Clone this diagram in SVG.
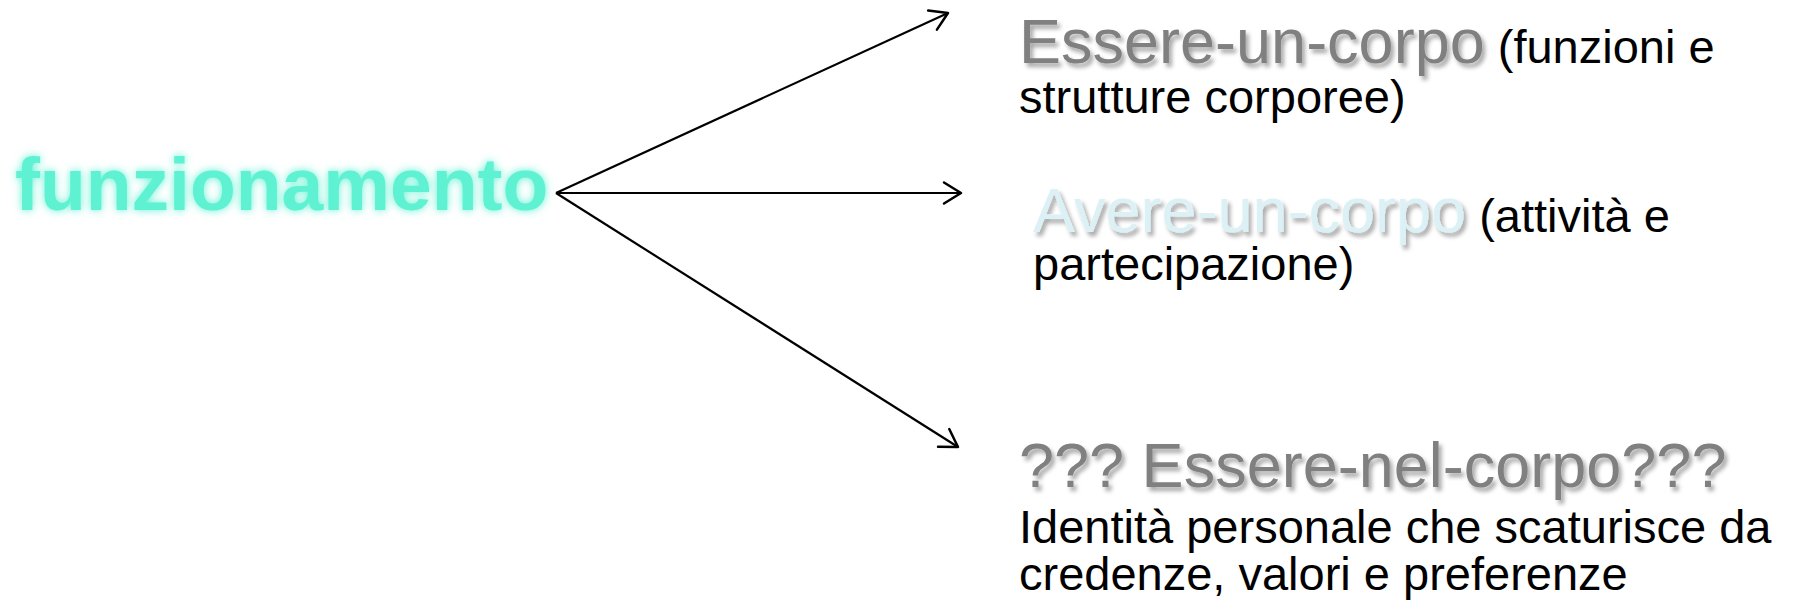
<svg xmlns="http://www.w3.org/2000/svg" width="1796" height="606" viewBox="0 0 1796 606">
<style>
.t{font-family:"Liberation Sans",Arial,sans-serif}
.big{font-size:63px}
.sm{font-size:47px;fill:#000}
.gray{fill:#808080}
.lb{fill:#DBF1F6}
.conn{stroke:#000;stroke-width:2.2;fill:none}
</style>
<defs>
<marker id="ah" markerUnits="userSpaceOnUse" markerWidth="40" markerHeight="40" viewBox="-30 -20 40 40" refX="0" refY="0" orient="auto">
<path d="M -17 -10.5 L 0 0 L -17 10.5" fill="none" stroke="#000" stroke-width="2.5" stroke-linecap="round" stroke-linejoin="round"/>
</marker>
<filter id="sh" x="-5%" y="-20%" width="115%" height="150%">
<feDropShadow dx="3" dy="4" stdDeviation="2" flood-color="#000" flood-opacity="0.35"/>
</filter>
<filter id="glow" x="-5%" y="-30%" width="110%" height="160%">
<feGaussianBlur in="SourceGraphic" stdDeviation="4" result="b"/>
<feMerge><feMergeNode in="b"/><feMergeNode in="SourceGraphic"/></feMerge>
</filter>
</defs>
<g id="connectors">
<line class="conn" x1="556" y1="193" x2="948" y2="13" marker-end="url(#ah)"/>
<line class="conn" x1="556" y1="193" x2="961" y2="193" marker-end="url(#ah)"/>
<line class="conn" x1="556" y1="193" x2="958" y2="447" marker-end="url(#ah)"/>
</g>
<g id="funzionamento">
<text class="t" x="15" y="210" font-size="75" font-weight="bold" fill="#5EF2D2" filter="url(#glow)">funzionamento</text>
</g>
<g id="essere-un-corpo">
<text class="t" y="63"><tspan class="big gray" x="1019" filter="url(#sh)">Essere-un-corpo</tspan><tspan class="sm"> (funzioni e</tspan></text>
<text class="t sm" x="1019" y="113">strutture corporee)</text>
</g>
<g id="avere-un-corpo">
<text class="t" y="232"><tspan class="big lb" x="1033" filter="url(#sh)">Avere-un-corpo</tspan><tspan class="sm"> (attività e</tspan></text>
<text class="t sm" x="1033" y="280">partecipazione)</text>
</g>
<g id="essere-nel-corpo">
<text class="t big gray" x="1019" y="487" filter="url(#sh)">??? Essere-nel-corpo???</text>
<text class="t sm" x="1019" y="543" font-size="48">Identità personale che scaturisce da</text>
<text class="t sm" x="1019" y="590" font-size="48">credenze, valori e preferenze</text>
</g>
</svg>
